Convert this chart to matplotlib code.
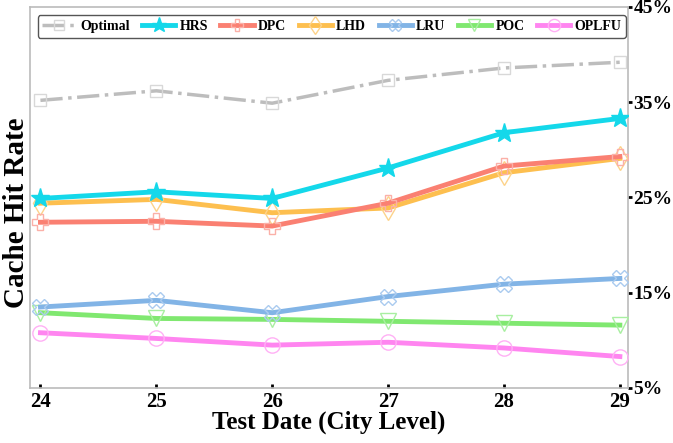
import matplotlib.pyplot as plt
from matplotlib.ticker import FuncFormatter

dates = [24, 25, 26, 27, 28, 29]
optimal = [35.2, 36.2, 34.9, 37.3, 38.6, 39.2]
hrs = [24.9, 25.6, 24.9, 28.1, 31.8, 33.3]
dpc = [22.4, 22.5, 22.0, 24.4, 28.3, 29.3]
lhd = [24.4, 24.8, 23.4, 23.9, 27.6, 29.1]
lru = [13.5, 14.2, 12.9, 14.6, 15.9, 16.5]
poc = [12.9, 12.3, 12.2, 12.0, 11.8, 11.6]
oplfu = [10.8, 10.2, 9.5, 9.8, 9.2, 8.3]

plt.rcParams['font.family'] = ['Liberation Serif', 'DejaVu Serif']
plt.rcParams['font.weight'] = 'bold'

fig = plt.figure(figsize=(6.73, 4.43), dpi=100)
ax = fig.add_axes([0.0446, 0.1242, 0.8885, 0.8600])

ax.plot(dates, optimal, color='#bdbdbd', lw=2.5, ls='-.', marker='s', ms=9,
        mfc='none', mec='#d8d8d8', mew=1, label='Optimal', zorder=2)
ax.plot(dates, hrs, color='#14d8ea', lw=3.5, marker='*', ms=14,
        mfc='#14d8ea', mec='#14d8ea', label='HRS', zorder=5)
ax.plot(dates, dpc, color='#fa8072', lw=3.5, marker='P', ms=11,
        mfc='none', mec='#fbb0a8', mew=1, label='DPC', zorder=4)
ax.plot(dates, lhd, color='#fdbf4f', lw=3.5, marker='d', ms=12,
        mfc='none', mec='#fdd38a', mew=1, label='LHD', zorder=3)
ax.plot(dates, lru, color='#82b4e6', lw=3.5, marker='X', ms=11,
        mfc='none', mec='#aacbef', mew=1, label='LRU', zorder=4)
ax.plot(dates, poc, color='#80e870', lw=3.5, marker='v', ms=11,
        mfc='none', mec='#a8efa0', mew=1, label='POC', zorder=3)
ax.plot(dates, oplfu, color='#ff85f0', lw=3.5, marker='o', ms=11,
        mfc='none', mec='#ffb0f5', mew=1, label='OPLFU', zorder=3)

ax.set_xlim(23.91, 29.07)
ax.set_ylim(5, 45)
ax.set_xticks(dates)
ax.set_yticks([5, 15, 25, 35, 45])
ax.yaxis.set_major_formatter(FuncFormatter(lambda v, p: '%d%%' % v))
ax.yaxis.tick_right()
ax.tick_params(axis='y', direction='out', length=3, width=2, color='black',
               labelsize=14, pad=1)
ax.tick_params(axis='x', direction='in', length=3, width=2, color='black',
               labelsize=15, pad=3)
for s in ax.spines.values():
    s.set_color('#bbbbbb')
    s.set_linewidth(1.2)

ax.set_xlabel('Test Date (City Level)', fontsize=18, fontweight='bold', labelpad=-1)
ax.set_ylabel('Cache Hit Rate', fontsize=21, fontweight='bold')
ax.yaxis.set_label_position('left')
ax.yaxis.set_label_coords(0.0, 0.46)

leg = ax.legend(loc='upper left', ncol=7, fontsize=10, frameon=True,
                handlelength=2.4, columnspacing=0.9, handletextpad=0.3,
                markerscale=0.8, bbox_to_anchor=(0.008, 0.985),
                borderpad=0.35, borderaxespad=0.2, fancybox=True)
leg.get_frame().set_edgecolor('#555555')
leg.get_frame().set_linewidth(1)
leg.get_frame().set_alpha(1)

fig.savefig('out.png', dpi=100)
